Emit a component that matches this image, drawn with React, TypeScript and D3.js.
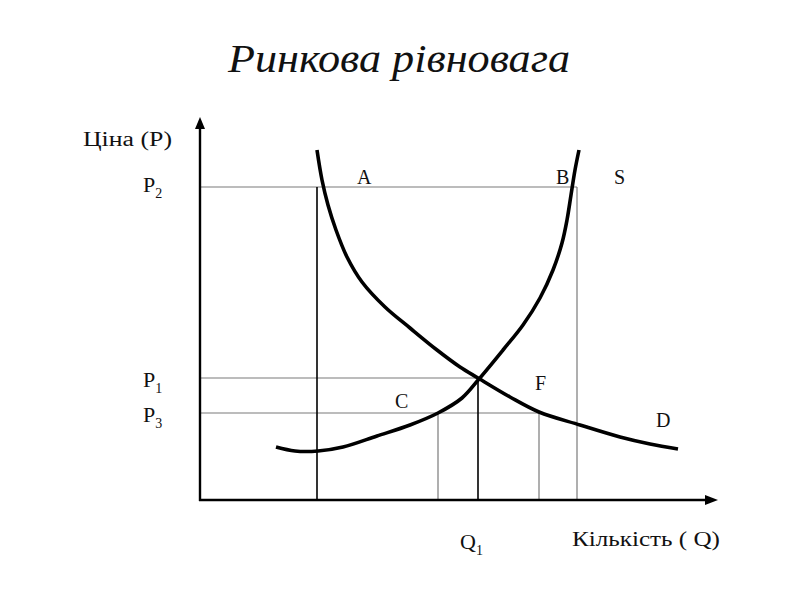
import React from "react";
import * as d3 from "d3";

// Quantity / price units (arbitrary)
const demandQ = [23.4, 24.4, 25.6, 27.2, 29.4, 32.4, 37, 42, 47.4, 52, 55.6, 62, 67.8, 76, 84, 90, 95.6];
const demandP = [87.5, 80, 73.75, 67.5, 60.75, 54.5, 48.25, 43, 37.5, 33.25, 30.5, 25.75, 22, 18.75, 15.75, 14, 12.75];
const supplyQ = [15.2, 19, 23.6, 28.6, 35.4, 42, 47.6, 52.4, 55.8, 60.6, 64.6, 68, 70.6, 72.4, 73.4, 74.2, 75, 75.8];
const supplyP = [13.25, 12.25, 12.25, 13.25, 16, 18.75, 21.75, 25.5, 30.25, 37.5, 43.75, 50.5, 57.5, 64.25, 70, 76.25, 82.5, 87.5];

const priceLevels = { P2: 78.25, P1: 30.5, P3: 21.75 };
const qtyLevels = { A: 23.4, C: 47.6, Q1: 55.6, F: 67.8, B: 75.4 };

const title = "Ринкова рівновага";
const yTitle = "Ціна (Р)";
const xTitle = "Кількість ( Q)";

const x = d3.scaleLinear().domain([0, 100]).range([200, 700]);
const y = d3.scaleLinear().domain([0, 100]).range([500, 100]);

const line = d3
  .line<[number, number]>()
  .x((d) => x(d[0]))
  .y((d) => y(d[1]))
  .curve(d3.curveCatmullRom.alpha(0.5));

const demand: [number, number][] = demandQ.map((q, i) => [q, demandP[i]]);
const supply: [number, number][] = supplyQ.map((q, i) => [q, supplyP[i]]);

const font = "Liberation Serif, DejaVu Serif";
const gray = "#7a7a7a";
const ink = "#111";

export default function App() {
  const x0 = x(0);
  const y0 = y(0);
  const sub = (main: string, s: string, px: number, py: number) => (
    <text x={px} y={py} style={{ fontFamily: font }} fontSize={22} fill={ink}>
      {main}
      <tspan fontSize={14} dy={6}>{s}</tspan>
    </text>
  );
  return (
    <svg
      width={800}
      height={600}
      style={{ position: "absolute", left: 0, top: 0, background: "#fff" }}
    >
      <rect width={800} height={600} fill="#fff" />
      <text x={228} y={72} textLength={342} lengthAdjust="spacingAndGlyphs" style={{ fontFamily: font }} fontStyle="italic" fontSize={41} fill={ink}>
        {title}
      </text>

      {/* guide lines */}
      <g stroke={gray} strokeWidth={1.2} fill="none">
        <line x1={x0} x2={x(qtyLevels.B)} y1={y(priceLevels.P2)} y2={y(priceLevels.P2)} />
        <line x1={x0} x2={x(qtyLevels.Q1)} y1={y(priceLevels.P1)} y2={y(priceLevels.P1)} />
        <line x1={x0} x2={x(qtyLevels.F)} y1={y(priceLevels.P3)} y2={y(priceLevels.P3)} />
        <line x1={x(qtyLevels.B)} x2={x(qtyLevels.B)} y1={y(priceLevels.P2)} y2={y0} />
        <line x1={x(qtyLevels.C)} x2={x(qtyLevels.C)} y1={y(priceLevels.P3)} y2={y0} />
        <line x1={x(qtyLevels.F)} x2={x(qtyLevels.F)} y1={y(priceLevels.P3)} y2={y0} />
      </g>
      <g stroke="#000" strokeWidth={1.6}>
        <line x1={x(qtyLevels.A)} x2={x(qtyLevels.A)} y1={y(priceLevels.P2)} y2={y0} />
        <line x1={x(qtyLevels.Q1)} x2={x(qtyLevels.Q1)} y1={y(priceLevels.P1)} y2={y0} />
      </g>

      {/* curves */}
      <path d={line(demand) || ""} fill="none" stroke="#000" strokeWidth={3.6} />
      <path d={line(supply) || ""} fill="none" stroke="#000" strokeWidth={3.6} />

      {/* axes */}
      <g stroke="#000" strokeWidth={2.4}>
        <line x1={x0} x2={x0} y1={y0 + 1} y2={126} />
        <line x1={x0 - 1} x2={708} y1={y0} y2={y0} />
      </g>
      <path d={`M${x0 - 5},129 L${x0},117 L${x0 + 5},129 Z`} fill="#000" />
      <path d={`M705,${y0 - 5} L718,${y0} L705,${y0 + 5} Z`} fill="#000" />

      {/* axis labels */}
      <text x={83} y={146} textLength={89} lengthAdjust="spacingAndGlyphs" style={{ fontFamily: font }} fontSize={20} fill={ink}>
        {yTitle}
      </text>
      {sub("P", "2", 143, y(priceLevels.P2) + 5)}
      {sub("P", "1", 143, y(priceLevels.P1) + 9)}
      {sub("P", "3", 143, y(priceLevels.P3) + 9)}
      {sub("Q", "1", 460, 549)}
      <text x={572} y={546} textLength={148} lengthAdjust="spacingAndGlyphs" style={{ fontFamily: font }} fontSize={20} fill={ink}>
        {xTitle}
      </text>

      {/* point labels */}
      <g style={{ fontFamily: font }} fontSize={20} fill={ink}>
        <text x={357} y={184}>A</text>
        <text x={556} y={184}>B</text>
        <text x={614} y={184}>S</text>
        <text x={395} y={408}>C</text>
        <text x={535} y={390}>F</text>
        <text x={656} y={427}>D</text>
      </g>
    </svg>
  );
}
